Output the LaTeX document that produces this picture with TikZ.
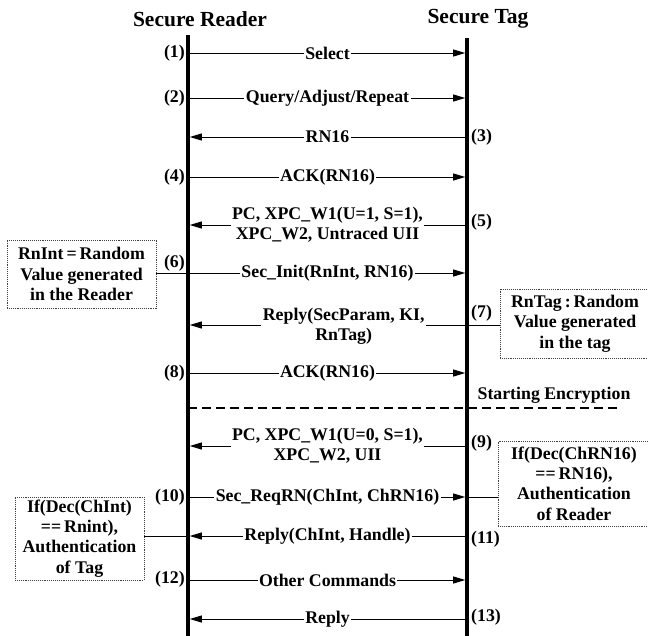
\documentclass[tikz,border=0pt]{standalone}
\usepackage{fontspec}
\setmainfont{Liberation Serif}
\usetikzlibrary{arrows.meta}

\begin{document}
\begin{tikzpicture}[x=1pt,y=-1pt,
  lifeline/.style={line width=3.6pt},
  msg/.style={line width=1pt,-{Triangle[length=12pt,width=7pt]},shorten >=1.8pt},
  plain/.style={line width=1pt},
  lbl/.style={fill=white,inner xsep=1.5pt,inner ysep=0pt,align=center,
              font=\fontsize{17.8}{20}\selectfont\bfseries},
  num/.style={inner sep=0pt,font=\fontsize{17.8}{20}\selectfont\bfseries},
  title/.style={inner sep=0pt,font=\fontsize{21.5}{24}\selectfont\bfseries},
  note/.style={draw=black!75,densely dotted,line width=0.9pt,align=center,
               inner sep=0pt,font=\fontsize{17.8}{20.3}\selectfont\bfseries},
]
\useasboundingbox (0,0) rectangle (648,635);

% headers
\node[title] (hr) at (200,19) {Secure Reader};
\node[title] (ht) at (478,19) {Secure Tag};

% lifelines
\coordinate (rtop) at (188,35);
\coordinate (rbot) at (188,637);
\coordinate (ttop) at (467,38);
\coordinate (tbot) at (467,637);
\draw[lifeline] (rtop) -- (rbot);
\draw[lifeline] (ttop) -- (tbot);

% message levels on both lifelines
\foreach \i/\y in {1/53,2/98,3/137,4/177,5/225,6/273,7/325,8/373,
                   enc/408,9/446,10/497,11/536,12/580,13/619}{
  \coordinate (r\i) at (188,\y);
  \coordinate (t\i) at (467,\y);
}

% side notes
\node[note,minimum width=149pt,minimum height=68pt] (n6) at (81.5,274)
  {RnInt\,=\,Random\\Value generated\\in the Reader};
\node[note,minimum width=150pt,minimum height=69pt] (n7) at (575,323.5)
  {RnTag\,:\,Random\\Value generated\\in the tag};
\node[note,minimum width=152pt,minimum height=85pt] (n9) at (574,483.5)
  {If(Dec(ChRN16)\\==\,RN16),\\Authentication\\of Reader};
\node[note,minimum width=129pt,minimum height=83pt] (n11) at (79.5,538.5)
  {If(Dec(ChInt)\\==\,Rnint),\\Authentication\\of Tag};

% messages
\draw[msg] (r1) -- node[lbl] {Select} (t1);
\draw[msg] (r2) -- node[lbl] {Query/Adjust/Repeat} (t2);
\draw[msg] (t3) -- node[lbl] {RN16} (r3);
\draw[msg] (r4) -- node[lbl] {ACK(RN16)} (t4);
\draw[msg] (t5) -- node[lbl] {PC, XPC\_W1(U=1, S=1),\\XPC\_W2, Untraced UII} (r5);
\draw[msg] (n6.east |- r6) -- (t6);
\path (r6) -- node[lbl] {Sec\_Init(RnInt, RN16)} (t6);
\draw[msg] (n7.west |- t7) -- (r7);
\path (r7) -- node[lbl,pos=0.558,yshift=-1pt] {Reply(SecParam, KI,\\RnTag)} (t7);
\draw[msg] (r8) -- node[lbl] {ACK(RN16)} (t8);

% start of the encrypted phase
\coordinate (encend) at (620,408);
\draw[line width=2pt,dash pattern=on 9pt off 5pt] (renc) -- (encend);
\node[num] (enc) at (554,395) {Starting Encryption};

\draw[msg] (t9) -- node[lbl] {PC, XPC\_W1(U=0, S=1),\\XPC\_W2, UII} (r9);
\draw[msg] (r10) -- node[lbl] {Sec\_ReqRN(ChInt, ChRN16)} (t10);
\draw[plain] (t10) -- (n9.west |- t10);
\draw[msg] (t11) -- node[lbl] {Reply(ChInt, Handle)} (r11);
\draw[plain] (r11) -- (n11.east |- r11);
\draw[msg] (r12) -- node[lbl] {Other Commands} (t12);
\draw[msg] (t13) -- node[lbl] {Reply} (r13);

% step numbers
\node[num,anchor=east] (s1) at (185,53) {(1)};
\node[num,anchor=east] (s2) at (185,98) {(2)};
\node[num,anchor=west] (s3) at (471,137) {(3)};
\node[num,anchor=east] (s4) at (185,177) {(4)};
\node[num,anchor=west] (s5) at (471,222) {(5)};
\node[num,anchor=east] (s6) at (185,263) {(6)};
\node[num,anchor=west] (s7) at (471,313) {(7)};
\node[num,anchor=east] (s8) at (185,373) {(8)};
\node[num,anchor=west] (s9) at (471,443) {(9)};
\node[num,anchor=east] (s10) at (185,497) {(10)};
\node[num,anchor=west] (s11) at (471,539) {(11)};
\node[num,anchor=east] (s12) at (185,579) {(12)};
\node[num,anchor=west] (s13) at (471,617) {(13)};
\end{tikzpicture}
\end{document}
